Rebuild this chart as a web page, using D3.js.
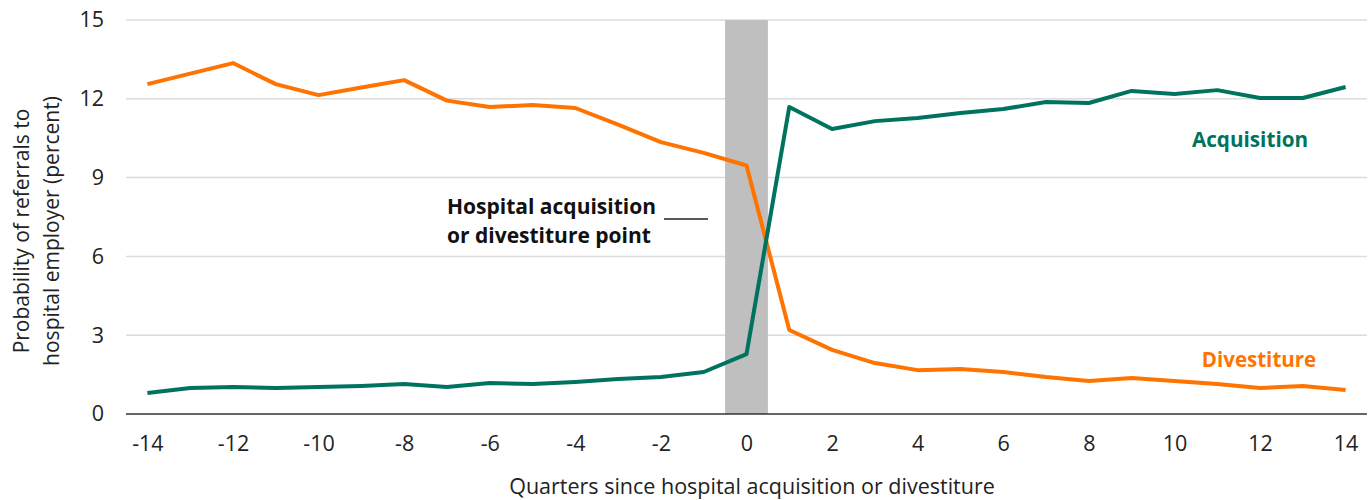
<!DOCTYPE html>
<html><head><meta charset="utf-8">
<script src="https://cdn.jsdelivr.net/npm/d3@7"></script>
<style>body{margin:0;background:#fff}svg{display:block}text{font-family:"Open Sans",sans-serif}</style>
</head><body><svg id="c" width="1369" height="500"></svg>
<script>
const quarters = d3.range(-14, 15);
const acquisition = [0.80,0.99,1.03,0.99,1.03,1.07,1.14,1.03,1.18,1.14,1.22,1.33,1.41,1.60,2.28,11.69,10.85,11.15,11.27,11.46,11.61,11.88,11.84,12.30,12.18,12.33,12.03,12.03,12.45];
const divestiture = [12.56,12.96,13.36,12.56,12.14,12.43,12.71,11.93,11.69,11.76,11.65,11.02,10.35,9.94,9.46,3.20,2.44,1.94,1.67,1.71,1.60,1.41,1.26,1.37,1.26,1.14,0.99,1.07,0.91];
const yTicks = [0,3,6,9,12,15];
const xTicks = [-14,-12,-10,-8,-6,-4,-2,0,2,4,6,8,10,12,14];
const band = [-0.5, 0.5];

const svg = d3.select("#c");
const x = d3.scaleLinear().domain([-14.5, 14.5]).range([126, 1367]);
const y = d3.scaleLinear().domain([0, 15]).range([414, 20]);

svg.append("g").selectAll("line").data(yTicks.filter(d=>d>0)).join("line")
  .attr("x1", 126).attr("x2", 1367).attr("y1", d=>y(d)).attr("y2", d=>y(d))
  .attr("stroke", "#dcdcdc").attr("stroke-width", 1.5);

svg.append("rect").attr("x", x(band[0])).attr("width", x(band[1]) - x(band[0]))
  .attr("y", y(15)).attr("height", y(0) - y(15)).attr("fill", "#bfbfbf");

svg.append("line").attr("x1", 126).attr("x2", 1367).attr("y1", y(0)).attr("y2", y(0))
  .attr("stroke", "#333").attr("stroke-width", 1.5);

const fmt = d => String(d);
const yAxis = d3.axisLeft(y).tickValues(yTicks).tickSize(0).tickPadding(0).tickFormat(fmt);
const ga = svg.append("g").attr("transform", "translate(104,0)").call(yAxis);
ga.select(".domain").remove();
ga.selectAll("text").attr("font-size", 21.5).attr("fill", "#222").style("font-family", "'Open Sans',sans-serif");

const xAxis = d3.axisBottom(x).tickValues(xTicks).tickSize(0).tickPadding(0).tickFormat(fmt);
const gx = svg.append("g").attr("transform", "translate(0,436)").call(xAxis);
gx.select(".domain").remove();
gx.selectAll("text").attr("font-size", 21.5).attr("fill", "#222").attr("dy", "0.71em").style("font-family", "'Open Sans',sans-serif");

const line = d3.line().x((d,i)=>x(quarters[i])).y(d=>y(d));
svg.append("path").datum(divestiture).attr("d", line).attr("fill","none")
  .attr("stroke", "#ff7300").attr("stroke-width", 4).attr("stroke-linejoin","round");
svg.append("path").datum(acquisition).attr("d", line).attr("fill","none")
  .attr("stroke", "#00735f").attr("stroke-width", 4).attr("stroke-linejoin","round");

svg.append("text").attr("x", 1250).attr("y", 147).attr("text-anchor","middle")
  .attr("font-size", 20.7).attr("font-weight", 700).attr("fill", "#00735f").text("Acquisition");
svg.append("text").attr("x", 1259).attr("y", 367).attr("text-anchor","middle")
  .attr("font-size", 20.5).attr("font-weight", 700).attr("fill", "#ff7300").text("Divestiture");

svg.append("text").attr("x", 447).attr("y", 214).attr("font-size", 21).attr("font-weight", 700).attr("fill","#111").text("Hospital acquisition");
svg.append("text").attr("x", 447).attr("y", 243).attr("font-size", 21).attr("font-weight", 700).attr("fill","#111").text("or divestiture point");
svg.append("line").attr("x1", 664).attr("x2", 708).attr("y1", 219).attr("y2", 219).attr("stroke","#222").attr("stroke-width",1.5);

svg.append("text").attr("x", 752).attr("y", 494).attr("text-anchor","middle").attr("font-size", 21.5).attr("fill","#222")
  .text("Quarters since hospital acquisition or divestiture");
const yl = svg.append("text").attr("transform","translate(0,231) rotate(-90)").attr("text-anchor","middle").attr("font-size", 21).attr("fill","#222");
yl.append("tspan").attr("x",0).attr("y",29).text("Probability of referrals to");
yl.append("tspan").attr("x",0).attr("y",59).text("hospital employer (percent)");
</script></body></html>
